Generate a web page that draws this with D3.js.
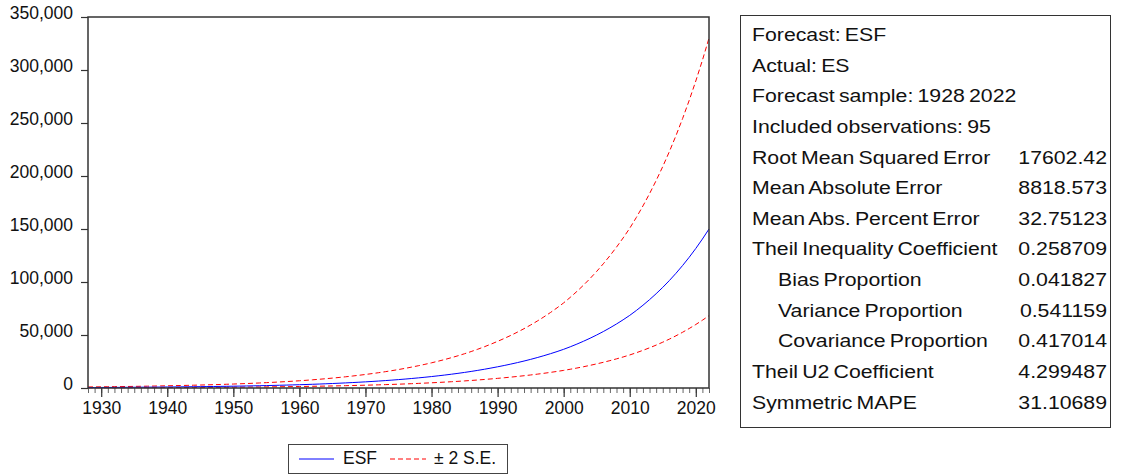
<!DOCTYPE html>
<html>
<head>
<meta charset="utf-8">
<script src="https://cdn.jsdelivr.net/npm/d3@7"></script>
<style>
  html, body { margin: 0; padding: 0; background: #fff; }
  svg { display: block; }
  text { font-family: "Liberation Sans", Arial, sans-serif; fill: #111; }
</style>
</head>
<body>
<script>
// ---------------- DATA ----------------
const startYear = 1928;
const endYear = 2022;
const years = d3.range(startYear, endYear + 1);

const esf = [
  450, 479, 509, 542, 577, 614, 653, 695, 740, 787, 838, 892, 950,
  1007, 1067, 1131, 1199, 1271, 1347, 1428, 1514, 1605, 1700,
  1805, 1917, 2036, 2162, 2296, 2438, 2589, 2749, 2920, 3100,
  3301, 3514, 3742, 3984, 4242, 4517, 4809, 5120, 5452, 5800,
  6172, 6569, 6990, 7439, 7917, 8425, 8966, 9542, 10155, 10800,
  11487, 12218, 12995, 13821, 14700, 15635, 16629, 17687, 18812, 20000,
  21240, 22557, 23956, 25441, 27018, 28694, 30473, 32362, 34368, 36500,
  38872, 41399, 44090, 46956, 50008, 53258, 56720, 60407, 64333, 68500,
  73124, 78060, 83329, 88954, 94958, 101368, 108210, 115514, 123311, 131635, 140520, 150000
];

const upper = [
  990, 1054, 1120, 1192, 1269, 1351, 1437, 1529, 1628, 1731, 1844, 1962, 2090,
  2215, 2347, 2488, 2638, 2796, 2963, 3142, 3331, 3531, 3740,
  3971, 4217, 4479, 4756, 5051, 5364, 5696, 6048, 6424, 6820,
  7262, 7731, 8232, 8765, 9332, 9937, 10580, 11264, 11994, 12760,
  13578, 14452, 15378, 16366, 17417, 18535, 19725, 20992, 22341, 23760,
  25271, 26880, 28589, 30406, 32340, 34397, 36584, 38911, 41386, 44000,
  46728, 49625, 52703, 55970, 59440, 63127, 67041, 71196, 75610, 80300,
  85518, 91078, 96998, 103303, 110018, 117168, 124784, 132895, 141533, 150700,
  160873, 171732, 183324, 195699, 208908, 223010, 238062, 254131, 271284, 289597, 309144, 330000
];

const lower = [
  205, 218, 232, 247, 263, 279, 297, 316, 337, 358, 381, 406, 432,
  458, 485, 515, 546, 578, 613, 650, 689, 730, 774,
  821, 872, 926, 984, 1045, 1109, 1178, 1251, 1329, 1411,
  1502, 1599, 1703, 1813, 1930, 2055, 2188, 2330, 2481, 2639,
  2808, 2989, 3180, 3385, 3602, 3833, 4080, 4342, 4621, 4914,
  5227, 5559, 5913, 6289, 6689, 7114, 7566, 8048, 8559, 9100,
  9664, 10263, 10900, 11576, 12293, 13056, 13865, 14725, 15637, 16608,
  17687, 18837, 20061, 21365, 22754, 24232, 25808, 27485, 29272, 31168,
  33271, 35517, 37915, 40474, 43206, 46122, 49236, 52559, 56107, 59894, 63937, 68250
];

const yTicks = [0, 50000, 100000, 150000, 200000, 250000, 300000, 350000];
const xMajorTicks = [1930, 1940, 1950, 1960, 1970, 1980, 1990, 2000, 2010, 2020];

const legendLabels = ["ESF", "\u00B1 2 S.E."];

const statLabels = [
  "Forecast: ESF",
  "Actual: ES",
  "Forecast sample: 1928 2022",
  "Included observations: 95",
  "Root Mean Squared Error",
  "Mean Absolute Error",
  "Mean Abs. Percent Error",
  "Theil Inequality Coefficient",
  "Bias Proportion",
  "Variance Proportion",
  "Covariance Proportion",
  "Theil U2 Coefficient",
  "Symmetric MAPE"
];
const statValues = ["", "", "", "", "17602.42", "8818.573", "32.75123", "0.258709",
  "0.041827", "0.541159", "0.417014", "4.299487", "31.10689"];
const statIndent = [false, false, false, false, false, false, false, false, true, true, true, false, false];

// ---------------- DRAW ----------------
const W = 1121, H = 475;
const svg = d3.select("body").append("svg").attr("width", W).attr("height", H);
svg.append("rect").attr("width", W).attr("height", H).attr("fill", "#fff");

const plot = { left: 88, right: 709, top: 17, bottom: 388 };
const x = d3.scaleLinear().domain([startYear, endYear]).range([plot.left, plot.right]);
const y = d3.scaleLinear().domain([0, 350000]).range([plot.bottom, plot.top]);

// Y axis
const yAxis = d3.axisLeft(y).tickValues(yTicks).tickFormat(d3.format(",")).tickSize(7).tickPadding(8);
const gy = svg.append("g").attr("transform", `translate(${plot.left},0)`).call(yAxis);
gy.select(".domain").remove();
gy.selectAll(".tick line").attr("stroke", "#333").attr("stroke-width", 1.2);
gy.selectAll(".tick text").attr("font-size", 17.5).attr("font-family", "Liberation Sans, Arial, sans-serif")
  .attr("fill", "#111").attr("dy", "0.08em");

// X axis minor ticks
const xMinor = d3.axisBottom(x).tickValues(years).tickSize(5).tickFormat("");
const gxm = svg.append("g").attr("transform", `translate(0,${plot.bottom})`).call(xMinor);
gxm.select(".domain").remove();
gxm.selectAll(".tick line").attr("stroke", "#666").attr("stroke-width", 1);

// X axis major ticks
const xMajor = d3.axisBottom(x).tickValues(xMajorTicks).tickSize(9).tickPadding(5).tickFormat(d3.format("d"));
const gx = svg.append("g").attr("transform", `translate(0,${plot.bottom})`).call(xMajor);
gx.select(".domain").remove();
gx.selectAll(".tick line").attr("stroke", "#333").attr("stroke-width", 1.2);
gx.selectAll(".tick text").attr("font-size", 17.5).attr("font-family", "Liberation Sans, Arial, sans-serif")
  .attr("fill", "#111");

// Lines
const line = d3.line().x((d, i) => x(years[i])).y(d => y(d));
svg.append("path").datum(upper).attr("d", line).attr("fill", "none")
  .attr("stroke", "#ff0000").attr("stroke-width", 1).attr("stroke-dasharray", "5,3");
svg.append("path").datum(lower).attr("d", line).attr("fill", "none")
  .attr("stroke", "#ff0000").attr("stroke-width", 1).attr("stroke-dasharray", "5,3");
svg.append("path").datum(esf).attr("d", line).attr("fill", "none")
  .attr("stroke", "#0000ff").attr("stroke-width", 1);

// Frame
svg.append("rect").attr("x", plot.left).attr("y", plot.top)
  .attr("width", plot.right - plot.left).attr("height", plot.bottom - plot.top)
  .attr("fill", "none").attr("stroke", "#333").attr("stroke-width", 1.5);

// Legend
const lg = svg.append("g");
lg.append("rect").attr("x", 288.5).attr("y", 444.5).attr("width", 219).attr("height", 29)
  .attr("fill", "#fff").attr("stroke", "#444").attr("stroke-width", 1);
lg.append("line").attr("x1", 299).attr("x2", 334).attr("y1", 459).attr("y2", 459)
  .attr("stroke", "#0000ff").attr("stroke-width", 1);
lg.append("text").attr("x", 343).attr("y", 464).attr("font-size", 17.5).text(legendLabels[0]);
lg.append("line").attr("x1", 390).attr("x2", 426).attr("y1", 459).attr("y2", 459)
  .attr("stroke", "#ff0000").attr("stroke-width", 1).attr("stroke-dasharray", "5,3");
lg.append("text").attr("x", 434).attr("y", 464).attr("font-size", 17.5).text(legendLabels[1]);

// Stats table
const tb = svg.append("g");
tb.append("rect").attr("x", 740.5).attr("y", 15.5).attr("width", 370).attr("height", 412)
  .attr("fill", "#fff").attr("stroke", "#333").attr("stroke-width", 1);
const rowY = d3.scaleLinear().domain([0, 12]).range([41, 408.5]);
const sx = 1.15;
tb.selectAll("text.lbl").data(statLabels).enter().append("text").attr("class", "lbl")
  .attr("transform", (d, i) => `translate(${statIndent[i] ? 778 : 752},${rowY(i)}) scale(${sx},1)`)
  .attr("font-size", 18.5).attr("word-spacing", "-1.5px").text(d => d);
tb.selectAll("text.val").data(statValues).enter().append("text").attr("class", "val")
  .attr("transform", (d, i) => `translate(1107,${rowY(i)}) scale(${sx},1)`)
  .attr("text-anchor", "end")
  .attr("font-size", 18.5).text(d => d);
</script>
</body>
</html>
